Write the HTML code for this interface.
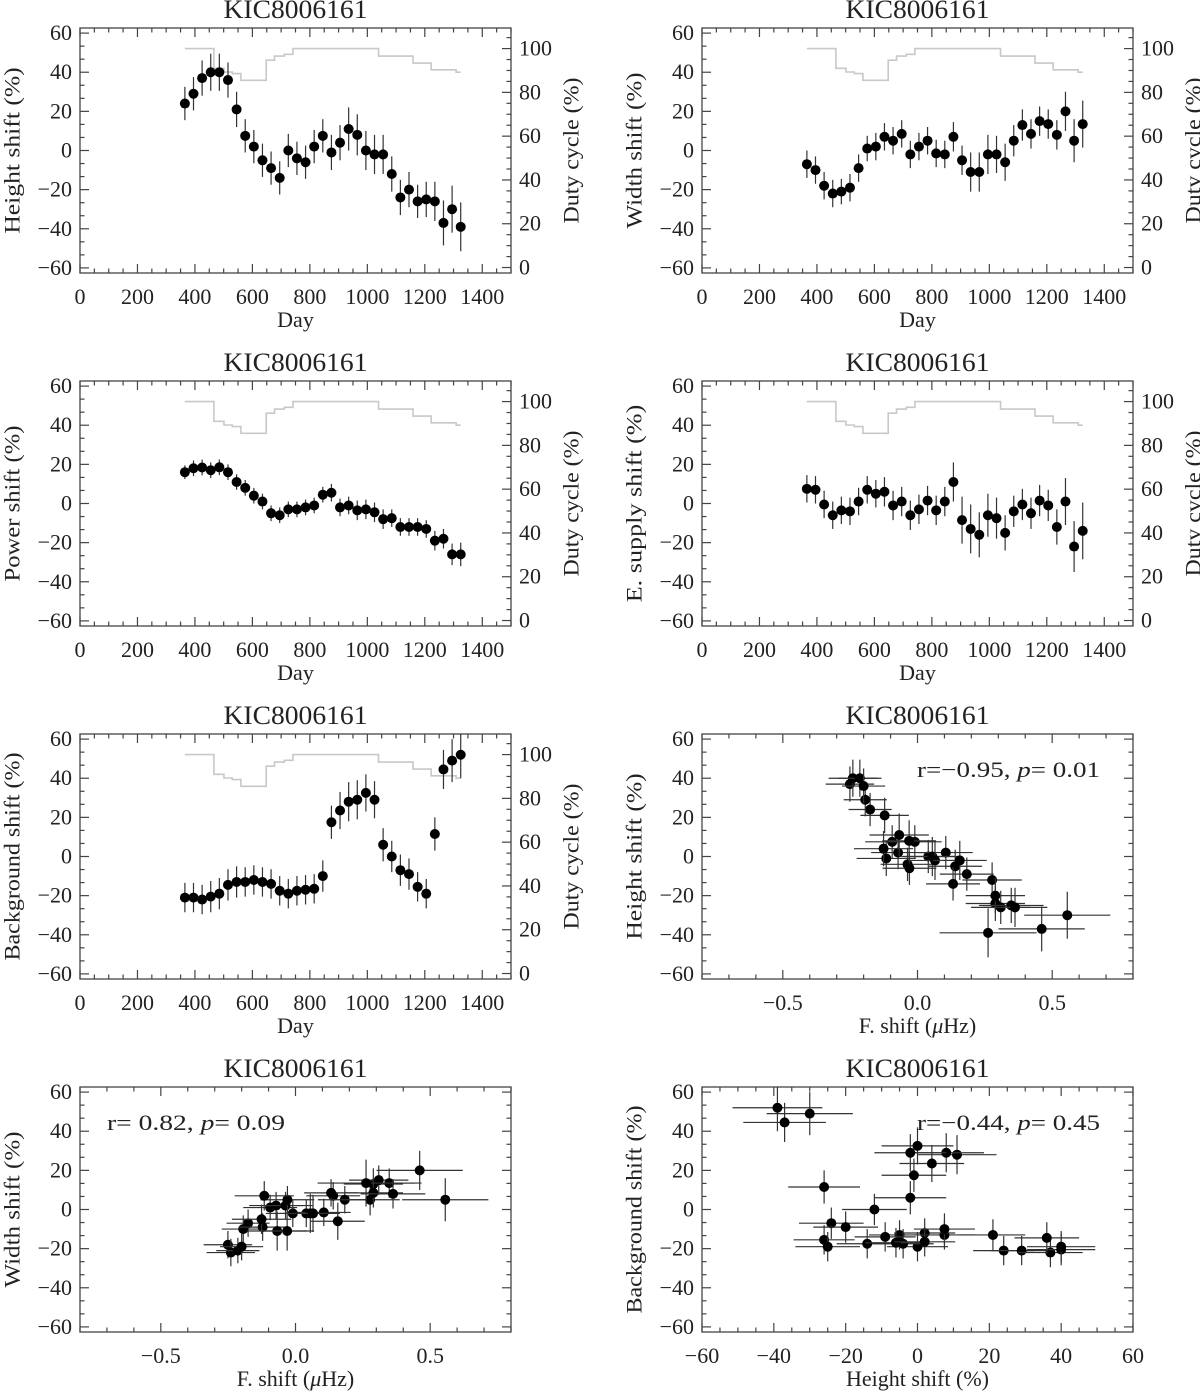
<!DOCTYPE html>
<html><head><meta charset="utf-8"><title>KIC8006161 shifts</title>
<style>
html,body{margin:0;padding:0;background:#fff;}
svg{display:block;font-family:"Liberation Serif",serif;}
</style></head>
<body>
<svg id="fig" width="1200" height="1391" viewBox="0 0 1200 1391" xmlns="http://www.w3.org/2000/svg"></svg>
<script>
// ---- data ----
const days = [365,395,425,455,485,515,545,575,605,635,665,695,725,755,785,815,845,875,905,935,965,995,1025,1055,1085,1115,1145,1175,1205,1235,1265,1295,1325];
const heightShift = [24,29,37,40,40,36,21,7.5,2,-5,-9,-14,0,-4,-6,2,7.5,-1,4,11,8,0,-2,-2,-12,-24,-20,-26,-25,-26,-37,-30,-39];
const heightErr = [8.5,8.5,9,9.5,9.5,9,9,8.5,8.5,8.5,8.5,8.5,8.5,8.5,8.5,8.5,8.5,9,9,11,10.5,10,10,10,9,9,9,8.5,9,10,11.5,12,12.5];
const widthShift = [-7,-10,-18,-22,-21,-19,-9,1,2,7,5,8.5,-2,2,5,-1.5,-2,7,-5,-11,-11,-2,-2,-6,5,13,8.5,15,13.5,8,20,5,13.5];
const widthErr = [7,7,7,7,6.5,7,7,6.5,7,7,7,7,7,7,7,7,7,7.5,7.5,10,10,10,9.5,9.5,8,8,7.5,7.5,7.5,7.5,10,11,12];
const powerShift = [16,18,18.4,17,18.5,16,11,8,4,1,-5,-6,-3,-3,-2,-1,4.5,5.5,-2,-1,-3.5,-3,-4.5,-8,-7.5,-12,-12,-12,-13,-19,-18,-26,-26];
const powerErr = [3.5,4,4,4,4,4,4,4,4,4,4,4,4,4,4,4,4,4.5,4.5,4.5,5,5,5,5,4.5,4.5,4.5,4.5,4.5,5,5,5.5,6];
const esupShift = [7.5,7,-0.5,-6,-3.5,-4,1,7,5,6,-1,1,-6,-3,1.5,-3.5,1,11,-8.5,-13,-16,-6,-7.5,-15,-4,-0.5,-5,1.5,-1,-12,1,-22,-14];
const esupErr = [7,7,7,7,7,7,7,7,7,7.5,7.5,7.5,7.5,7.5,7.5,7.5,7.5,10,12,12.5,11.5,11,10.5,9,8,8,8,8,8,9,12,13,14.5];
const bgShift = [-21,-21,-22,-20.5,-19,-14.5,-13,-13,-12,-13,-14,-17.5,-19,-17.5,-17,-16.5,-10,17.5,23.5,28,29,32.5,29,6,0,-7,-9,-15.5,-19,11.5,44.5,49,52];
const bgErr = [7.5,7.5,7.5,8,8,8,8,7.5,7.5,7.5,7.5,7.5,7.5,7.5,7.5,7.5,8,8.5,9.5,10,10,9.5,9.5,8.5,8,8,8,7.5,7.5,8.5,10,11,12];
const fShift = [-0.176,-0.194,-0.251,-0.240,-0.214,-0.200,-0.122,-0.094,-0.072,0.140,0.183,0.132,0.040,-0.037,-0.030,0.105,-0.010,-0.116,-0.126,-0.068,-0.031,0.055,0.065,0.157,0.277,0.289,0.289,0.309,0.348,0.362,0.461,0.556,0.262];
const fErr = [0.08,0.08,0.09,0.09,0.08,0.08,0.09,0.1,0.1,0.1,0.1,0.1,0.1,0.1,0.1,0.1,0.1,0.11,0.11,0.11,0.1,0.1,0.1,0.1,0.11,0.11,0.11,0.11,0.12,0.12,0.16,0.16,0.18];
const dutyEdges = [365,466,501,530,560,648,677,711,741,1039,1159,1222,1309,1325];
const dutyValues = [100,91,89.3,88.6,85.5,94.7,96.6,97.4,100,96.6,93.4,90.3,89.2];
const yTickLabels = [-60,-40,-20,0,20,40,60];
const dayTickLabels = [0,200,400,600,800,1000,1200,1400];
const dutyTickLabels = [0,20,40,60,80,100];
const fTickLabels = [-0.5,0.0,0.5];
const hTickLabels = [-60,-40,-20,0,20,40,60];

const NS = "http://www.w3.org/2000/svg";
const svg = document.getElementById('fig');
function mk(tag, attrs, parent){
  const e = document.createElementNS(NS, tag);
  for (const k in attrs) e.setAttribute(k, attrs[k]);
  (parent||svg).appendChild(e);
  return e;
}
function fmtNum(v, dec){
  const s = dec ? Math.abs(v).toFixed(dec) : String(Math.abs(v));
  return (v < 0 ? "\u2212" : "") + s;
}
const colX = [80, 702], W = 431, rowTop = [28, 381, 734, 1087], H = 245;
const YMIN = -62.6, YMAX = 62.6, DMIN = -2.5, DMAX = 109.4;

function panel(opt){
  const L = opt.x0, T = opt.y0, R = L + W, B = T + H;
  const g = mk('g', {});
  
  
  const sx = v => L + (v - opt.xmin) / (opt.xmax - opt.xmin) * W;
  const sy = v => B - (v - YMIN) / (YMAX - YMIN) * H;
  const sd = v => B - (v - DMIN) / (DMAX - DMIN) * H;
  const cid = 'clip-' + opt.name;
  const cp = mk('clipPath', {id: cid}, g);
  mk('rect', {x: L, y: T, width: W, height: H}, cp);

  const t = mk('text', {x: L + W/2, y: T - 10, 'text-anchor': 'middle', 'font-size': 26, fill: '#222', textLength: 144, lengthAdjust: 'spacingAndGlyphs'}, g);
  t.textContent = 'KIC8006161';
  
  

  const tk = mk('g', {stroke: '#444', 'stroke-width': 1.2}, g);
  
  
  for (let v = opt.xmin; v <= opt.xmax + 1e-9; v += opt.xminor){
    const isMaj = Math.abs(v / opt.xmajor - Math.round(v / opt.xmajor)) < 1e-6;
    const len = isMaj ? 9 : 4.5, x = sx(v);
    mk('line', {x1: x, y1: B, x2: x, y2: B - len}, tk);
    mk('line', {x1: x, y1: T, x2: x, y2: T + len}, tk);
  }
  for (let v = -60; v <= 60.01; v += 20/3){
    const isMaj = Math.abs(v / 20 - Math.round(v / 20)) < 1e-6;
    const len = isMaj ? 9 : 4.5, y = sy(v);
    mk('line', {x1: L, y1: y, x2: L + len, y2: y}, tk);
    if (!opt.duty) mk('line', {x1: R, y1: y, x2: R - len, y2: y}, tk);
  }
  if (opt.duty){
    for (let v = 0; v <= 105; v += 5){
      const len = (v % 20 === 0) ? 9 : 4.5, y = sd(v);
      mk('line', {x1: R, y1: y, x2: R - len, y2: y}, tk);
    }
  }
  const box = mk('rect', {x: L, y: T, width: W, height: H, fill: 'none', stroke: '#444', 'stroke-width': 1.3}, g);
  
  

  yTickLabels.forEach(v => {
    const e = mk('text', {x: L - 8, y: sy(v) + 7, 'text-anchor': 'end', 'font-size': 22, fill: '#222'}, g);
    e.textContent = fmtNum(v);
    
    
  });
  opt.xticks.forEach(v => {
    const e = mk('text', {x: sx(v), y: B + 31, 'text-anchor': 'middle', 'font-size': 22, fill: '#222'}, g);
    e.textContent = fmtNum(v, opt.xdec);
    
    
  });
  if (opt.duty){
    dutyTickLabels.forEach(v => {
      const e = mk('text', {x: R + 8, y: sd(v) + 7, 'text-anchor': 'start', 'font-size': 22, fill: '#222'}, g);
      e.textContent = String(v);
      
      
    });
    const dt = mk('text', {x: 0, y: 0, 'text-anchor': 'middle', 'dominant-baseline': 'central', 'font-size': 22, fill: '#222', transform: `translate(${R + 60},${T + H/2}) rotate(-90)`, textLength: 146, lengthAdjust: 'spacingAndGlyphs'}, g);
    dt.textContent = 'Duty cycle (%)';
    
    
  }
  const yt = mk('text', {x: 0, y: 0, 'text-anchor': 'middle', 'dominant-baseline': 'central', 'font-size': 22, fill: '#222', transform: `translate(${L - 68},${T + H/2}) rotate(-90)`, textLength: opt.ytitle.length * 10.4, lengthAdjust: 'spacingAndGlyphs'}, g);
  yt.textContent = opt.ytitle;
  
  
  const xt = mk('text', {x: L + W/2, y: B + 54, 'text-anchor': 'middle', 'font-size': 22, fill: '#222'}, g);
  
  
  if (opt.xtitleMu){
    xt.appendChild(document.createTextNode('F. shift ('));
    const it = mk('tspan', {'font-style': 'italic'}, xt); it.textContent = '\u03bc';
    xt.appendChild(document.createTextNode('Hz)'));
  } else xt.textContent = opt.xtitle;

  const inner = mk('g', {'clip-path': `url(#${cid})`}, g);
  if (opt.duty){
    let d = '';
    for (let i = 0; i < dutyValues.length; i++){
      const y = sd(dutyValues[i]);
      d += (i === 0 ? 'M' : 'L') + sx(dutyEdges[i]) + ',' + y + 'L' + sx(dutyEdges[i+1]) + ',' + y;
    }
    const p = mk('path', {d: d, fill: 'none', stroke: '#c8c8c8', 'stroke-width': 1.6}, inner);
    
    
  }
  const xs = opt.xs, ys = opt.ys;
  for (let i = 0; i < xs.length; i++){
    const cx = sx(xs[i]), cy = sy(ys[i]);
    const ey = mk('line', {x1: cx, y1: sy(ys[i] - opt.yerr[i]), x2: cx, y2: sy(ys[i] + opt.yerr[i]), stroke: '#333', 'stroke-width': 1.2}, inner);
    
    
    if (opt.xerr){
      const ex = mk('line', {x1: sx(xs[i] - opt.xerr[i]), y1: cy, x2: sx(xs[i] + opt.xerr[i]), y2: cy, stroke: '#333', 'stroke-width': 1.2}, inner);
      
      
    }
    const c = mk('circle', {cx: cx, cy: cy, r: 5, fill: '#000'}, inner);
    
    
  }
  if (opt.note){
    const n = mk('text', {x: opt.note.x, y: opt.note.y, 'font-size': 22, fill: '#222', textLength: opt.note.len, lengthAdjust: 'spacingAndGlyphs'}, g);
    
    
    n.appendChild(document.createTextNode(opt.note.a));
    const it = mk('tspan', {'font-style': 'italic'}, n); it.textContent = 'p';
    n.appendChild(document.createTextNode(opt.note.b));
  }
}

const timeOpt = {xmin: 0, xmax: 1500, xmajor: 200, xminor: 50, xticks: dayTickLabels, xtitle: 'Day', duty: true, xs: days};
panel(Object.assign({}, timeOpt, {name: 'height-vs-day', x0: colX[0], y0: rowTop[0], ys: heightShift, yerr: heightErr, ytitle: 'Height shift (%)'}));
panel(Object.assign({}, timeOpt, {name: 'width-vs-day', x0: colX[1], y0: rowTop[0], ys: widthShift, yerr: widthErr, ytitle: 'Width shift (%)'}));
panel(Object.assign({}, timeOpt, {name: 'power-vs-day', x0: colX[0], y0: rowTop[1], ys: powerShift, yerr: powerErr, ytitle: 'Power shift (%)'}));
panel(Object.assign({}, timeOpt, {name: 'esupply-vs-day', x0: colX[1], y0: rowTop[1], ys: esupShift, yerr: esupErr, ytitle: 'E. supply shift (%)'}));
panel(Object.assign({}, timeOpt, {name: 'background-vs-day', x0: colX[0], y0: rowTop[2], ys: bgShift, yerr: bgErr, ytitle: 'Background shift (%)'}));
const fOpt = {xmin: -0.8, xmax: 0.8, xmajor: 0.5, xminor: 0.1, xticks: fTickLabels, xdec: 1, xtitleMu: true, duty: false, xs: fShift, xerr: fErr};
panel(Object.assign({}, fOpt, {name: 'height-vs-fshift', x0: colX[1], y0: rowTop[2], ys: heightShift, yerr: heightErr, ytitle: 'Height shift (%)',
  note: {x: 917, y: 777, len: 183, a: 'r=\u22120.95, ', b: '= 0.01'}}));
panel(Object.assign({}, fOpt, {name: 'width-vs-fshift', x0: colX[0], y0: rowTop[3], ys: widthShift, yerr: widthErr, ytitle: 'Width shift (%)',
  note: {x: 107, y: 1130, len: 178, a: 'r= 0.82, ', b: '= 0.09'}}));
panel({name: 'background-vs-height', x0: colX[1], y0: rowTop[3], xmin: -60, xmax: 60, xmajor: 20, xminor: 5, xticks: hTickLabels, xtitle: 'Height shift (%)', duty: false,
  xs: heightShift, xerr: heightErr, ys: bgShift, yerr: bgErr, ytitle: 'Background shift (%)',
  note: {x: 917, y: 1130, len: 183, a: 'r=\u22120.44, ', b: '= 0.45'}});
</script>
</body></html>
